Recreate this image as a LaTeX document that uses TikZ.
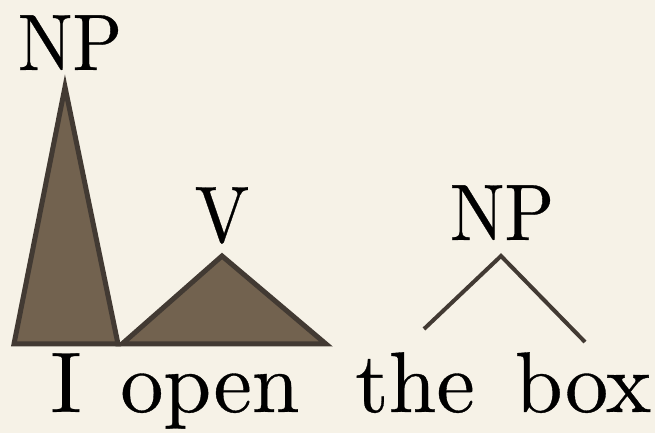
\documentclass[tikz,border=0pt]{standalone}
\usepackage{fontspec}
\setmainfont{lmroman10-regular}[Extension=.otf, FakeBold=0.4]
\definecolor{bg}{HTML}{F6F2E7}
\definecolor{tri}{HTML}{72624F}
\definecolor{edge}{HTML}{423A33}
\tikzset{
  lbl/.style={inner sep=0pt, font=\fontsize{80}{90}\selectfont, anchor=base, transform shape, xscale=0.91},
  word/.style={inner sep=0pt, font=\fontsize{86}{100}\selectfont, anchor=base},
  roof/.style={draw=edge, fill=tri, line width=5pt, line join=miter},
  branch/.style={draw=edge, line width=4pt}
}
\begin{document}
\begin{tikzpicture}[x=1pt,y=1pt]
\fill[bg] (0,0) rectangle (655,433);
\useasboundingbox (0,0) rectangle (655,433);
% labels
\node[lbl] (np1) at (70,363) {NP};
\node[lbl] (v) at (222,191) {V};
\node[lbl] (np2) at (502,193) {NP};
% words
\node[word] (w1) at (66,21) {I};
\node[word] (w2) at (210,21) {open};
\node[word] (w3) at (415,21) {the};
\node[word] (w4) at (583,21) {box};
% triangles
\coordinate (a1) at (65,346);
\coordinate (b1) at (14,89);
\coordinate (c1) at (118,89);
\draw[roof] (a1) -- (b1) -- (c1) -- cycle;
\coordinate (a2) at (222,177);
\coordinate (b2) at (122,89);
\coordinate (c2) at (326,89);
\draw[roof] (a2) -- (b2) -- (c2) -- cycle;
% branches
\coordinate (top) at (501,177);
\coordinate (l) at (424,104);
\coordinate (r) at (585,91);
\draw[branch] (l) -- (top) -- (r);
\end{tikzpicture}
\end{document}
